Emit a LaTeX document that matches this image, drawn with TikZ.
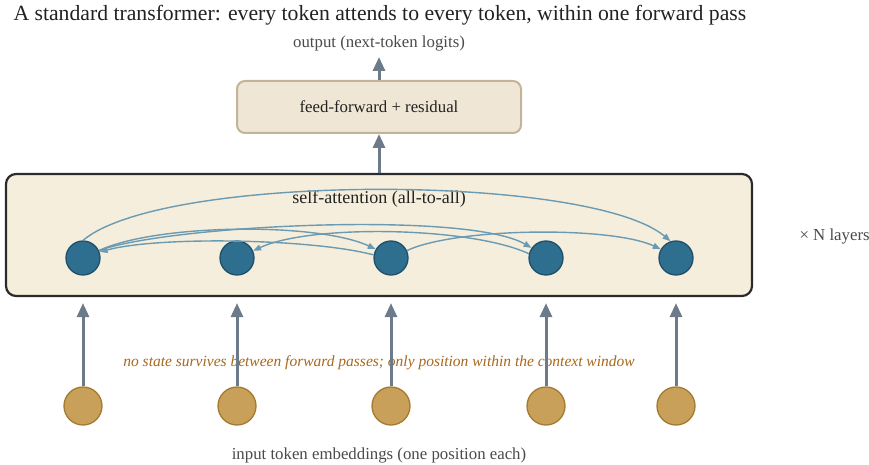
\documentclass[tikz,border=0pt]{standalone}
\usepackage{fontspec}
\setmainfont{Liberation Serif}
\usetikzlibrary{arrows.meta}

\definecolor{titlegray}{HTML}{222222}
\definecolor{labelgray}{HTML}{4A4A4A}
\definecolor{ffbg}{HTML}{EFE6D5}
\definecolor{ffline}{HTML}{C4B497}
\definecolor{attbg}{HTML}{F5EEDC}
\definecolor{boxline}{HTML}{2B2B2B}
\definecolor{tokfill}{HTML}{2E6E8E}
\definecolor{tokline}{HTML}{1F4F6B}
\definecolor{embfill}{HTML}{C9A05A}
\definecolor{embline}{HTML}{A47A30}
\definecolor{flowgray}{HTML}{6C7A89}
\definecolor{attnblue}{HTML}{6A9BB3}
\definecolor{notebrown}{HTML}{A8671C}

\begin{document}
\begin{tikzpicture}[x=1pt,y=1pt,
    every node/.style={font=\fontsize{16.8}{20}\selectfont},
    tok/.style={draw=tokline,fill=tokfill,circle,minimum size=34pt,inner sep=0pt,line width=1.3pt},
    emb/.style={draw=embline,fill=embfill,circle,minimum size=38pt,inner sep=0pt,line width=1.3pt},
    flow/.style={-{Triangle[length=14pt,width=12pt]},line width=3pt,draw=flowgray},
    attn/.style={-{Triangle[length=8pt,width=6pt]},line width=1.4pt,draw=attnblue}]
  \useasboundingbox (0,0) rectangle (869,-465);

  \node[anchor=base west,font=\fontsize{21.7}{26}\selectfont,text=titlegray] (title) at (10,-21)
    {A standard transformer: every token attends to every token, within one forward pass};
  \node[anchor=base,text=labelgray] (out) at (379,-48) {output (next-token logits)};
  \coordinate (outtip) at (379,-57);

  \node[draw=ffline,fill=ffbg,rounded corners=8pt,line width=2pt,minimum width=284pt,
    minimum height=52pt,text=titlegray] (FF) at (379,-107) {feed-forward + residual};
  \node[draw=boxline,fill=attbg,rounded corners=10pt,line width=2.2pt,minimum width=746pt,
    minimum height=122pt] (SA) at (379,-235) {};
  \node[anchor=base,font=\fontsize{18}{22}\selectfont,text=titlegray] (salabel) at (379,-203)
    {self-attention (all-to-all)};
  \node[anchor=base west,text=labelgray] (layers) at (796,-240) {× N layers};

  \node[tok] (T1) at (83,-258) {};
  \node[tok] (T2) at (237,-258) {};
  \node[tok] (T3) at (391,-258) {};
  \node[tok] (T4) at (546,-258) {};
  \node[tok] (T5) at (676,-258) {};

  \node[emb] (E1) at (83,-406) {};
  \node[emb] (E2) at (237,-406) {};
  \node[emb] (E3) at (391,-406) {};
  \node[emb] (E4) at (546,-406) {};
  \node[emb] (E5) at (676,-406) {};

  \node[anchor=base,font=\fontsize{15.5}{18}\selectfont\itshape,text=notebrown] (note) at (379,-366)
    {no state survives between forward passes; only position within the context window};
  \node[anchor=base,text=labelgray] (inlabel) at (379,-459) {input token embeddings (one position each)};

  % attention arcs
  \draw[attn] (T1.north) to[out=40,in=140,looseness=0.46] (T5.108);
  \draw[attn] (T1.25) to[out=25,in=155,looseness=0.59] (T3.150);
  \draw[attn] (T1.25) to[out=20,in=150,looseness=0.44] (T4.145);
  \draw[attn] (T3.170) to[out=165,in=15,looseness=0.58] (T1.20);
  \draw[attn] (T4.166) to[out=155,in=25,looseness=0.59] (T2.24);
  \draw[attn] (T3.25) to[out=25,in=155,looseness=0.55] (T5.150);

  % flow
  \draw[flow,shorten >=6pt] (E1) -- (E1 |- SA.south);
  \draw[flow,shorten >=6pt] (E2) -- (E2 |- SA.south);
  \draw[flow,shorten >=6pt] (E3) -- (E3 |- SA.south);
  \draw[flow,shorten >=6pt] (E4) -- (E4 |- SA.south);
  \draw[flow,shorten >=6pt] (E5) -- (E5 |- SA.south);
  \draw[flow] (SA.north) -- (FF.south);
  \draw[flow] (FF.north) -- (outtip);
\end{tikzpicture}
\end{document}
